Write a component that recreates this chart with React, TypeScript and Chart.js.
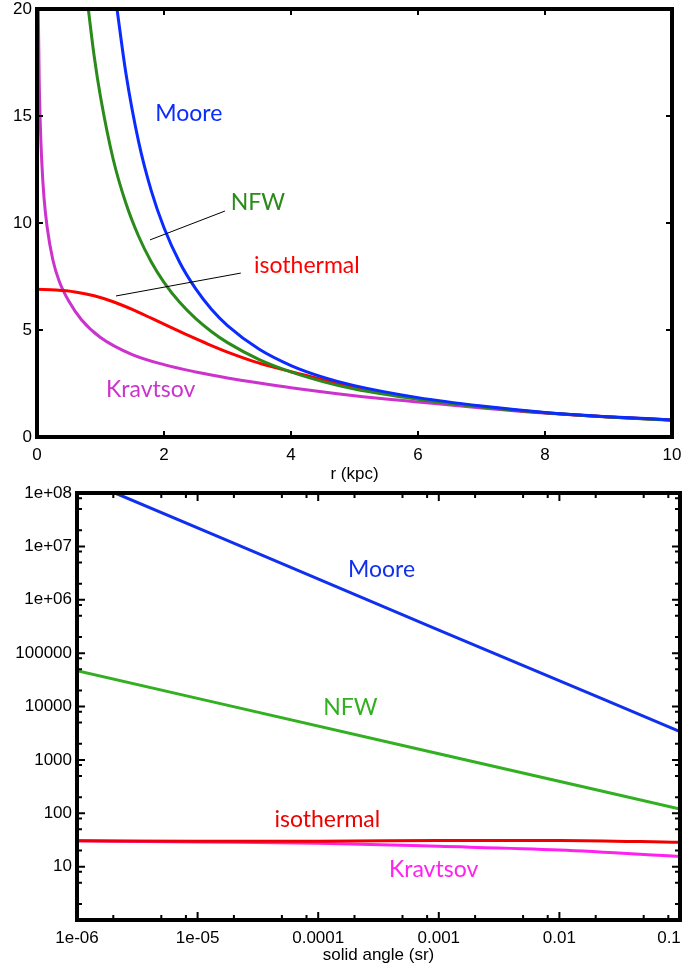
import React, { useEffect, useRef } from "react";
import { Chart, registerables } from "chart.js";
Chart.register(...registerables);

// ---------------- Top panel: density vs r (kpc) ----------------
const topXTicks = [0, 2, 4, 6, 8, 10];
const topYTicks = [0, 5, 10, 15, 20];

const mooreR = [1.26, 1.4, 1.6, 1.8, 2.0, 2.25, 2.5, 2.75, 3.0, 3.5, 4.0, 4.5, 5.0, 6, 7, 8, 9, 10];
const mooreRho = [20, 17.0, 13.8, 11.5, 9.78, 8.14, 6.92, 5.96, 5.21, 4.1, 3.34, 2.8, 2.4, 1.84, 1.45, 1.15, 0.95, 0.8];

const nfwR = [0.8, 0.9, 1.0, 1.2, 1.4, 1.6, 1.8, 2.0, 2.25, 2.5, 2.75, 3.0, 3.5, 4.0, 4.5, 5.0, 6, 7, 8, 9, 10];
const nfwRho = [20.2, 17.8, 15.9, 12.98, 10.92, 9.38, 8.18, 7.23, 6.28, 5.53, 4.92, 4.41, 3.62, 3.04, 2.59, 2.24, 1.76, 1.4, 1.13, 0.93, 0.78];

const isoR = [0, 0.3, 0.6, 0.9, 1.2, 1.5, 1.8, 2.1, 2.4, 2.7, 3.0, 3.5, 4.0, 4.5, 5.0, 6, 7, 8, 9, 10];
const isoRho = [6.9, 6.87, 6.78, 6.6, 6.32, 5.96, 5.55, 5.13, 4.72, 4.33, 3.97, 3.45, 3.05, 2.68, 2.33, 1.8, 1.42, 1.13, 0.94, 0.79];

const kravR = [0.02, 0.035, 0.05, 0.074, 0.11, 0.16, 0.25, 0.35, 0.5, 0.7, 1.0, 1.5, 2.0, 2.5, 3.0, 3.5, 4.0, 5.0, 6, 7, 8, 9, 10];
const kravRho = [20, 16.6, 14.8, 12.94, 11.2, 9.8, 8.27, 7.28, 6.35, 5.48, 4.65, 3.85, 3.38, 3.04, 2.76, 2.52, 2.3, 1.93, 1.64, 1.36, 1.12, 0.94, 0.79];

// ---------------- Bottom panel: J vs solid angle (sr) ----------------
const botXTicks = [1e-6, 1e-5, 1e-4, 1e-3, 1e-2, 1e-1];
const botXLabels = ["1e-06", "1e-05", "0.0001", "0.001", "0.01", "0.1"];
const botYTicks = [10, 100, 1000, 1e4, 1e5, 1e6, 1e7, 1e8];
const botYLabels = ["10", "100", "1000", "10000", "100000", "1e+06", "1e+07", "1e+08"];
const minorMultipliers = [2, 5, 8];

const angleMoore = [2.07e-6, 1e-3, 0.1];
const jMoore = [1e8, 2.7e5, 3400];

const angleNfw = [1e-6, 1e-3, 0.1];
const jNfw = [4.7e4, 1.3e3, 120];

const angleIso = [1e-6, 1e-5, 1e-4, 1e-3, 1e-2, 0.1];
const jIso = [30.5, 30, 30, 30.8, 31, 28.5];

const angleKrav = [1e-6, 1e-5, 1e-4, 1e-3, 1e-2, 0.1];
const jKrav = [30.5, 29, 27.5, 24, 20.5, 15.5];

// ---------------- styling ----------------
const TICK_FONT = { family: '"Liberation Sans", Arial, sans-serif', size: 17 };
const NOTE_FONT = '23px Lato, "Open Sans", sans-serif';

const topColors = { moore: "#0a2cff", nfw: "#2a8a1a", iso: "#ff0000", krav: "#cc33cc" };
const botColors = { moore: "#1030ee", nfw: "#33b022", iso: "#ee0000", krav: "#ff22ee" };

type Note = { text: string; x: number; y: number; color: string };
type Pointer = { x1: number; y1: number; x2: number; y2: number };

const topNotes: Note[] = [
  { text: "Moore", x: 2.39, y: 14.77, color: topColors.moore },
  { text: "NFW", x: 3.48, y: 10.61, color: topColors.nfw },
  { text: "isothermal", x: 4.25, y: 7.66, color: topColors.iso },
  { text: "Kravtsov", x: 1.79, y: 1.87, color: topColors.krav },
];
const topPointers: Pointer[] = [
  { x1: 1.78, y1: 9.21, x2: 2.96, y2: 10.56 },
  { x1: 1.244, y1: 6.59, x2: 3.21, y2: 7.66 },
];
const botNotes: Note[] = [
  { text: "Moore", x: 3.35e-4, y: 2.69e6, color: botColors.moore },
  { text: "NFW", x: 1.85e-4, y: 6.9e3, color: botColors.nfw },
  { text: "isothermal", x: 1.19e-4, y: 55.3, color: botColors.iso },
  { text: "Kravtsov", x: 9.06e-4, y: 6.4, color: botColors.krav },
];

function pts(xs: number[], ys: number[]) {
  return xs.map((x, i) => ({ x, y: ys[i] }));
}

function line(label: string, xs: number[], ys: number[], color: string) {
  return {
    label,
    data: pts(xs, ys),
    borderColor: color,
    backgroundColor: color,
    borderWidth: 3,
    pointRadius: 0,
    cubicInterpolationMode: "monotone" as const,
    fill: false,
  };
}

function logMinors(decades: number[]) {
  const out: number[] = [];
  decades.forEach((d) => minorMultipliers.forEach((m) => out.push(d * m)));
  return out;
}

function decorPlugin(
  id: string,
  xMajor: number[],
  xMinor: number[],
  yMajor: number[],
  yMinor: number[],
  majorLen: number,
  minorLen: number,
  notes: Note[],
  pointers: Pointer[]
) {
  return {
    id,
    afterDatasetsDraw(chart: any) {
      const { ctx, chartArea: a } = chart;
      const xs = chart.scales.x;
      const ys = chart.scales.y;
      ctx.save();
      ctx.strokeStyle = "#000";
      ctx.lineWidth = 1;
      pointers.forEach((p) => {
        ctx.beginPath();
        ctx.moveTo(xs.getPixelForValue(p.x1), ys.getPixelForValue(p.y1));
        ctx.lineTo(xs.getPixelForValue(p.x2), ys.getPixelForValue(p.y2));
        ctx.stroke();
      });
      ctx.font = NOTE_FONT;
      ctx.textAlign = "center";
      ctx.textBaseline = "alphabetic";
      notes.forEach((n) => {
        ctx.fillStyle = n.color;
        ctx.fillText(n.text, xs.getPixelForValue(n.x), ys.getPixelForValue(n.y));
      });
      ctx.strokeStyle = "#000";
      ctx.lineWidth = 2;
      const xt = (vals: number[], len: number) =>
        vals.forEach((v) => {
          if (v < xs.min || v > xs.max) return;
          const px = xs.getPixelForValue(v);
          ctx.beginPath();
          ctx.moveTo(px, a.bottom);
          ctx.lineTo(px, a.bottom - len);
          ctx.moveTo(px, a.top);
          ctx.lineTo(px, a.top + len);
          ctx.stroke();
        });
      const yt = (vals: number[], len: number) =>
        vals.forEach((v) => {
          if (v < ys.min || v > ys.max) return;
          const py = ys.getPixelForValue(v);
          ctx.beginPath();
          ctx.moveTo(a.left, py);
          ctx.lineTo(a.left + len, py);
          ctx.moveTo(a.right, py);
          ctx.lineTo(a.right - len, py);
          ctx.stroke();
        });
      xt(xMajor, majorLen);
      xt(xMinor, minorLen);
      yt(yMajor, majorLen);
      yt(yMinor, minorLen);
      ctx.lineWidth = 4;
      ctx.strokeRect(a.left, a.top, a.right - a.left, a.bottom - a.top);
      ctx.restore();
    },
  };
}

function fixedSize(size: number, horizontal: boolean, lastLabelShift = 0) {
  return (scale: any) => {
    if (horizontal) scale.height = size;
    else scale.width = size;
    scale.paddingLeft = 0;
    scale.paddingRight = 0;
    scale.paddingTop = 0;
    scale.paddingBottom = 0;
    if (lastLabelShift && !scale.__shiftWrapped) {
      scale.__shiftWrapped = true;
      const orig = scale._computeLabelItems.bind(scale);
      scale._computeLabelItems = (area: any) => {
        const items = orig(area);
        const last = items[items.length - 1];
        if (last && last.options && last.options.translation) {
          const t = last.options.translation;
          last.options.translation = [t[0] - lastLabelShift, t[1]];
        }
        return items;
      };
    }
  };
}

export default function App() {
  const topRef = useRef<HTMLCanvasElement>(null);
  const botRef = useRef<HTMLCanvasElement>(null);

  useEffect(() => {
    const top = new Chart(topRef.current!, {
      type: "line",
      data: {
        datasets: [
          line("Moore", mooreR, mooreRho, topColors.moore),
          line("NFW", nfwR, nfwRho, topColors.nfw),
          line("isothermal", isoR, isoRho, topColors.iso),
          line("Kravtsov", kravR, kravRho, topColors.krav),
        ],
      },
      options: {
        animation: false,
        responsive: false,
        devicePixelRatio: 1,
        layout: { padding: { top: 9, right: 16, left: 0, bottom: 0 } },
        plugins: { legend: { display: false }, tooltip: { enabled: false } },
        scales: {
          x: {
            type: "linear",
            min: 0,
            max: 10,
            grid: { display: false, drawTicks: false },
            border: { display: false },
            afterBuildTicks: (s: any) => {
              s.ticks = topXTicks.map((v) => ({ value: v }));
            },
            afterFit: fixedSize(53, true),
            ticks: { font: TICK_FONT, color: "#000", padding: 8, maxRotation: 0 },
            title: { display: true, text: "r (kpc)", font: TICK_FONT, color: "#000", padding: { top: 0, bottom: 5 } },
          },
          y: {
            type: "linear",
            min: 0,
            max: 20,
            grid: { display: false, drawTicks: false },
            border: { display: false },
            afterBuildTicks: (s: any) => {
              s.ticks = topYTicks.map((v) => ({ value: v }));
            },
            afterFit: fixedSize(37, false),
            ticks: { font: TICK_FONT, color: "#000", padding: 5 },
          },
        },
      },
      plugins: [decorPlugin("decorTop", [2, 4, 6, 8], [], [5, 10, 15], [], 6, 0, topNotes, topPointers)],
    } as any);

    const bot = new Chart(botRef.current!, {
      type: "line",
      data: {
        datasets: [
          line("Moore", angleMoore, jMoore, botColors.moore),
          line("NFW", angleNfw, jNfw, botColors.nfw),
          line("isothermal", angleIso, jIso, botColors.iso),
          line("Kravtsov", angleKrav, jKrav, botColors.krav),
        ],
      },
      options: {
        animation: false,
        responsive: false,
        devicePixelRatio: 1,
        layout: { padding: { top: 13, right: 8, left: 0, bottom: 0 } },
        plugins: { legend: { display: false }, tooltip: { enabled: false } },
        scales: {
          x: {
            type: "logarithmic",
            min: 1e-6,
            max: 0.1,
            grid: { display: false, drawTicks: false },
            border: { display: false },
            afterBuildTicks: (s: any) => {
              s.ticks = botXTicks.map((v) => ({ value: v }));
            },
            afterFit: fixedSize(53, true, 11),
            ticks: {
              font: TICK_FONT,
              color: "#000",
              padding: 8,
              maxRotation: 0,
              autoSkip: false,
              callback: (v: any, i: number) => botXLabels[i],
            },
            title: { display: true, text: "solid angle (sr)", font: TICK_FONT, color: "#000", padding: { top: 0, bottom: 7 } },
          },
          y: {
            type: "logarithmic",
            min: 1,
            max: 1e8,
            grid: { display: false, drawTicks: false },
            border: { display: false },
            afterBuildTicks: (s: any) => {
              s.ticks = botYTicks.map((v) => ({ value: v }));
            },
            afterFit: fixedSize(77, false),
            ticks: {
              font: TICK_FONT,
              color: "#000",
              padding: 5,
              autoSkip: false,
              callback: (v: any, i: number) => botYLabels[i],
            },
          },
        },
      },
      plugins: [
        decorPlugin(
          "decorBot",
          botXTicks,
          logMinors([1e-6, 1e-5, 1e-4, 1e-3, 1e-2]),
          [1, ...botYTicks],
          logMinors([1, 10, 100, 1000, 1e4, 1e5, 1e6, 1e7]),
          8,
          5,
          botNotes,
          []
        ),
      ],
    } as any);

    return () => {
      top.destroy();
      bot.destroy();
    };
  }, []);

  return (
    <div style={{ position: "absolute", left: 0, top: 0, width: 688, height: 973, background: "#fff" }}>
      <canvas ref={topRef} width={688} height={490} style={{ position: "absolute", left: 0, top: 0, width: 688, height: 490 }} />
      <canvas ref={botRef} width={688} height={493} style={{ position: "absolute", left: 0, top: 480, width: 688, height: 493 }} />
    </div>
  );
}
